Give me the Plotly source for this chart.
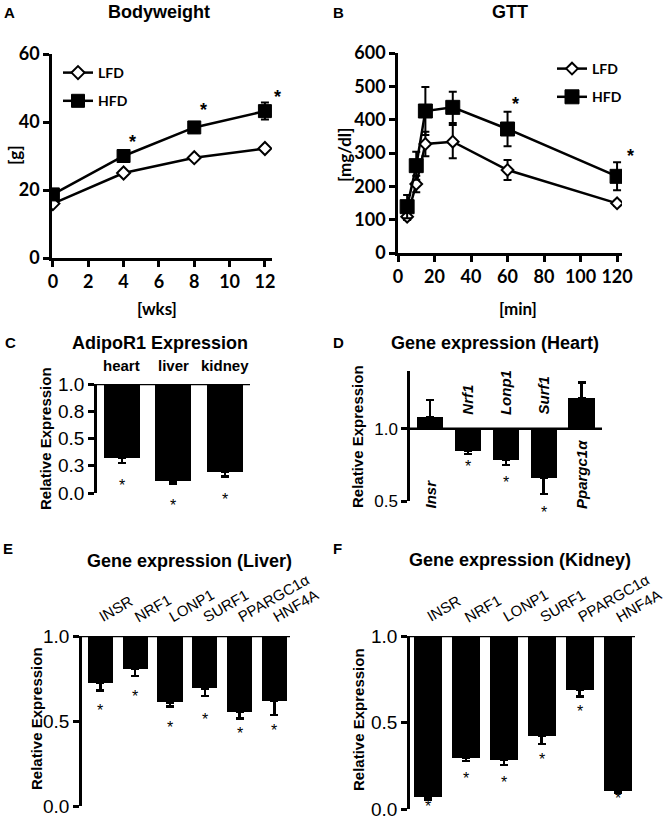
import plotly.graph_objects as go

W, H = 665, 820

# ---------------- data ----------------
weeks = [0, 4, 8, 12]
bw_lfd = [16.0, 25.0, 29.5, 32.2]
bw_lfd_err = [0.5, 0.6, 0.6, 0.7]
bw_hfd = [18.7, 30.0, 38.4, 43.2]
bw_hfd_err = [1.0, 1.0, 1.5, 2.5]
bw_sig = [4, 8, 12]

gtt_min = [5, 10, 15, 30, 60, 120]
gtt_lfd = [109, 207, 327, 334, 249, 149]
gtt_lfd_err = [10, 25, 37, 50, 30, 8]
gtt_hfd = [139, 262, 426, 437, 372, 230]
gtt_hfd_err = [35, 42, 72, 47, 52, 42]
gtt_sig = [60, 120]

adipo_tissues = ["heart", "liver", "kidney"]
adipo_vals = [0.32, 0.107, 0.193]
adipo_err = [0.045, 0.02, 0.04]

heart_genes = ["Insr", "Nrf1", "Lonp1", "Surf1", "Ppargc1α"]
heart_vals = [1.083, 0.847, 0.785, 0.66, 1.21]
heart_err = [0.117, 0.021, 0.035, 0.11, 0.11]
heart_sig = [False, True, True, True, False]

liver_genes = ["INSR", "NRF1", "LONP1", "SURF1", "PPARGC1α", "HNF4A"]
liver_vals = [0.725, 0.806, 0.61, 0.692, 0.555, 0.618]
liver_err = [0.045, 0.041, 0.026, 0.045, 0.041, 0.083]

kidney_genes = ["INSR", "NRF1", "LONP1", "SURF1", "PPARGC1α", "HNF4A"]
kidney_vals = [0.071, 0.297, 0.282, 0.421, 0.69, 0.105]
kidney_err = [0.017, 0.019, 0.029, 0.044, 0.039, 0.011]

# ---------------- helpers ----------------
def px(x):
    return x / W

def py(y):
    return 1 - y / H

ARIAL = "Liberation Sans, Arial, sans-serif"
LATO = "Lato, Open Sans, sans-serif"

fig = go.Figure()

# ---- Panel A ----
fig.add_trace(go.Scatter(
    x=weeks, y=bw_lfd, name="LFD", mode="lines+markers", legendgroup="a1",
    line=dict(color="black", width=2.5),
    marker=dict(symbol="diamond", size=10, color="white", line=dict(color="black", width=2)),
    error_y=dict(type="data", array=bw_lfd_err, color="black", thickness=2, width=4),
    xaxis="x", yaxis="y", legend="legend"))
fig.add_trace(go.Scatter(
    x=weeks, y=bw_hfd, name="HFD", mode="lines+markers", legendgroup="a2",
    line=dict(color="black", width=2.5),
    marker=dict(symbol="square", size=13, color="black", line=dict(color="black", width=1)),
    error_y=dict(type="data", array=bw_hfd_err, color="black", thickness=2, width=4),
    xaxis="x", yaxis="y", legend="legend"))

# ---- Panel B ----
fig.add_trace(go.Scatter(
    x=gtt_min, y=gtt_lfd, name="LFD", mode="lines+markers", legendgroup="b1",
    line=dict(color="black", width=2.5),
    marker=dict(symbol="diamond", size=9, color="white", line=dict(color="black", width=2)),
    error_y=dict(type="data", array=gtt_lfd_err, color="black", thickness=2, width=4),
    xaxis="x2", yaxis="y2", legend="legend2"))
fig.add_trace(go.Scatter(
    x=gtt_min, y=gtt_hfd, name="HFD", mode="lines+markers", legendgroup="b2",
    line=dict(color="black", width=2.5),
    marker=dict(symbol="square", size=14, color="black", line=dict(color="black", width=1)),
    error_y=dict(type="data", array=gtt_hfd_err, color="black", thickness=2, width=4),
    xaxis="x2", yaxis="y2", legend="legend2"))


def add_bars(vals, errs, xa, ya, width):
    n = len(vals)
    up = [e if v > 1 else 0 for v, e in zip(vals, errs)]
    dn = [e if v < 1 else 0 for v, e in zip(vals, errs)]
    fig.add_trace(go.Bar(
        x=list(range(n)), y=[v - 1 for v in vals], base=[1] * n, width=width,
        marker=dict(color="black", line=dict(width=0)),
        error_y=dict(type="data", symmetric=False, array=up, arrayminus=dn,
                     color="black", thickness=2.5, width=4),
        xaxis=xa, yaxis=ya, showlegend=False))


add_bars(adipo_vals, adipo_err, "x3", "y3", 0.7)
add_bars(heart_vals, heart_err, "x4", "y4", 0.69)
add_bars(liver_vals, liver_err, "x5", "y5", 0.72)
add_bars(kidney_vals, kidney_err, "x6", "y6", 0.74)

# ---------------- axes ----------------
lat_tick = dict(family=LATO, size=18, color="black", weight="bold")
ari_tick = dict(family=ARIAL, size=19, color="black")


def ax_common(**kw):
    d = dict(showgrid=False, zeroline=False, showline=True, linecolor="black",
             linewidth=2.5, ticks="outside", ticklen=6, tickwidth=2.5,
             tickcolor="black", fixedrange=True, automargin=False,
             ticklabeloverflow="allow")
    d.update(kw)
    return d


layout = dict(
    width=W, height=H, margin=dict(l=0, r=0, t=0, b=0, autoexpand=False),
    plot_bgcolor="white", paper_bgcolor="white", bargap=0,
    xaxis=ax_common(domain=[px(52), px(272)], range=[-0.05, 12.4], dtick=2, tick0=0,
                    tickfont=lat_tick, anchor="y"),
    yaxis=ax_common(domain=[py(258), py(54)], range=[0, 60], dtick=20,
                    tickfont=lat_tick, anchor="x"),
    xaxis2=ax_common(domain=[px(398), px(622)], range=[0, 122.7], dtick=20, tick0=0,
                     tickfont=lat_tick, anchor="y2"),
    yaxis2=ax_common(domain=[py(253), py(53)], range=[0, 600], dtick=100,
                     tickfont=lat_tick, anchor="x2"),
    xaxis3=dict(domain=[px(97), px(250)], range=[-0.485, 2.49], visible=False, anchor="y3"),
    yaxis3=ax_common(domain=[py(493), py(384)], range=[0, 1],
                     tickvals=[0, 0.25, 0.5, 0.75, 1.0],
                     ticktext=["0.0", "0.3", "0.5", "0.8", "1.0"],
                     tickfont=ari_tick, anchor="x3"),
    xaxis4=dict(domain=[px(410), px(602)], range=[-0.528, 4.54], visible=False, anchor="y4"),
    yaxis4=ax_common(domain=[py(501), py(371)], range=[0.5, 1.4],
                     tickvals=[0.5, 1.0], ticktext=["0.5", "1.0"],
                     tickfont=dict(family=ARIAL, size=17, color="black"), anchor="x4"),
    xaxis5=dict(domain=[px(82), px(290)], range=[-0.53, 5.45], visible=False, anchor="y5"),
    yaxis5=ax_common(domain=[py(806), py(636)], range=[0, 1],
                     tickvals=[0, 0.5, 1.0], ticktext=["0.0", "0.5", "1.0"],
                     tickfont=ari_tick, anchor="x5"),
    xaxis6=dict(domain=[px(410), px(635)], range=[-0.475, 5.46], visible=False, anchor="y6"),
    yaxis6=ax_common(domain=[py(809), py(636)], range=[0, 1],
                     tickvals=[0, 0.5, 1.0], ticktext=["0.0", "0.5", "1.0"],
                     tickfont=ari_tick, anchor="x6"),
    legend=dict(x=px(58), y=py(57), xanchor="left", yanchor="top",
                bgcolor="rgba(0,0,0,0)", traceorder="grouped", tracegroupgap=7,
                font=dict(family=LATO, size=14, color="black", weight="bold")),
    legend2=dict(x=px(552), y=py(53), xanchor="left", yanchor="top",
                 bgcolor="rgba(0,0,0,0)", traceorder="grouped", tracegroupgap=7,
                 font=dict(family=LATO, size=14, color="black", weight="bold")),
    showlegend=True,
)
fig.update_layout(**layout)

# baseline lines at 1.0 for bar panels
for xa, ya in [("x3", "y3"), ("x4", "y4"), ("x5", "y5"), ("x6", "y6")]:
    fig.add_shape(type="line", xref=f"{xa} domain", yref=ya, x0=0, x1=1, y0=1, y1=1,
                  line=dict(color="black", width=2.5))

ann = []


def text(x, y, s, size, family=ARIAL, bold=True, angle=0,
         xanchor="center", yanchor="middle"):
    ann.append(dict(x=px(x), y=py(y), xref="paper", yref="paper", text=s, showarrow=False,
                    textangle=angle, xanchor=xanchor, yanchor=yanchor,
                    font=dict(family=family, size=size, color="black",
                              weight="bold" if bold else "normal")))


# panel letters
for (x, y, s) in [(9, 12, "A"), (338, 12, "B"), (10, 343, "C"), (338, 343, "D"),
                  (8, 548, "E"), (337, 548, "F")]:
    text(x, y, s, 15)

# titles
text(159, 12, "Bodyweight", 18)
text(510, 12, "GTT", 18)
text(160, 343, "AdipoR1 Expression", 18)
text(495, 343, "Gene expression (Heart)", 18)
text(189, 561, "Gene expression (Liver)", 18)
text(520, 560, "Gene expression (Kidney)", 18)

# axis titles
text(157, 308, "[wks]", 17, family=LATO)
text(518, 308, "[min]", 17, family=LATO)
text(15, 155, "[g]", 17, family=LATO, angle=-90)
text(345, 155, "[mg/dl]", 17, family=LATO, angle=-90)
text(45, 439, "Relative Expression", 15, angle=-90)
text(357, 437, "Relative Expression", 15, angle=-90)
text(36, 719, "Relative Expression", 15, angle=-90)
text(358, 720, "Relative Expression", 15, angle=-90)

STAR_FONT = dict(family=ARIAL, size=18, color="black", weight="bold")

# significance stars on line panels (pixel offsets from the error-bar top)
bw_star_dx = [9, 9, 13]
bw_star_dy = [11, 12, 6]
for k, wk in enumerate(bw_sig):
    i = weeks.index(wk)
    ann.append(dict(x=wk, y=bw_hfd[i] + bw_hfd_err[i], xref="x", yref="y", text="*",
                    showarrow=False, xanchor="center", yanchor="middle",
                    xshift=bw_star_dx[k], yshift=bw_star_dy[k], font=STAR_FONT))
gtt_star_dx = [8, 13]
gtt_star_dy = [8, 6]
for k, mn in enumerate(gtt_sig):
    i = gtt_min.index(mn)
    ann.append(dict(x=mn, y=gtt_hfd[i] + gtt_hfd_err[i], xref="x2", yref="y2", text="*",
                    showarrow=False, xanchor="center", yanchor="middle",
                    xshift=gtt_star_dx[k], yshift=gtt_star_dy[k], font=STAR_FONT))

# tissue labels for C
for i, t in enumerate(adipo_tissues):
    ann.append(dict(x=i, y=1, xref="x3", yref="y3", text=t, showarrow=False,
                    xanchor="center", yanchor="bottom", yshift=8,
                    font=dict(family=ARIAL, size=15, color="black", weight="bold")))


def bar_stars(vals, errs, xa, ya, shifts, sig=None):
    k = 0
    for i, (v, e) in enumerate(zip(vals, errs)):
        if sig is not None and not sig[i]:
            continue
        ann.append(dict(x=i, y=v - e, xref=xa, yref=ya, text="*", showarrow=False,
                        xanchor="center", yanchor="middle", yshift=-shifts[k],
                        font=dict(family=ARIAL, size=16, color="black")))
        k += 1


bar_stars(adipo_vals, adipo_err, "x3", "y3", [22, 22, 23])
bar_stars(heart_vals, heart_err, "x4", "y4", [13, 18, 19], heart_sig)
bar_stars(liver_vals, liver_err, "x5", "y5", [20, 21, 21, 23, 15, 15])
bar_stars(kidney_vals, kidney_err, "x6", "y6", [7, 18, 17, 16, 15, 6])

# gene labels for D (vertical, italic)
for i, (g, v) in enumerate(zip(heart_genes, heart_vals)):
    if v > 1:
        ann.append(dict(x=i, y=0.5, xref="x4", yref="y4", text=g, showarrow=False,
                        textangle=-90, xanchor="center", yanchor="bottom", yshift=-10,
                        font=dict(family=ARIAL, size=15, color="black", weight="bold",
                                  style="italic")))
    else:
        ann.append(dict(x=i, y=1, xref="x4", yref="y4", text=g, showarrow=False,
                        textangle=-90, xanchor="center", yanchor="bottom", yshift=12,
                        font=dict(family=ARIAL, size=15, color="black", weight="bold",
                                  style="italic")))

# gene labels for E / F (slanted)
for genes, xa, ya in [(liver_genes, "x5", "y5"), (kidney_genes, "x6", "y6")]:
    for i, g in enumerate(genes):
        ann.append(dict(x=i, y=1, xref=xa, yref=ya, text=g, showarrow=False,
                        textangle=-30, xanchor="left", yanchor="bottom",
                        xshift=-7, yshift=8,
                        font=dict(family=ARIAL, size=15, color="black")))

fig.update_layout(annotations=ann)
fig.write_html("out.html", config={"displayModeBar": False},
               post_script="document.body.style.margin='0';")
